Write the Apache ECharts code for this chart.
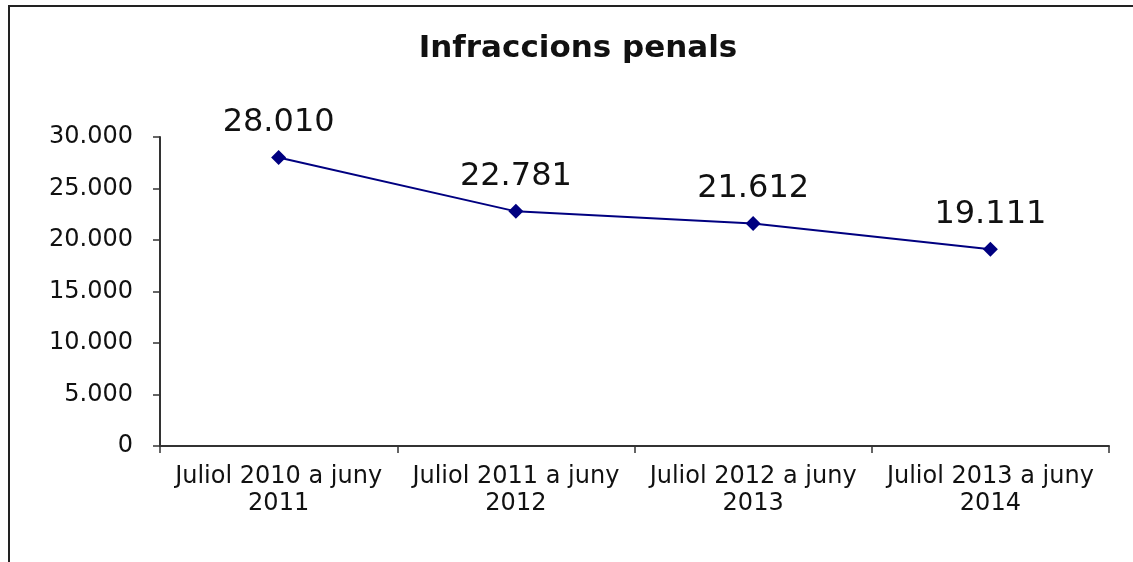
<!DOCTYPE html>
<html>
<head>
<meta charset="utf-8">
<script src="https://cdn.jsdelivr.net/npm/echarts@6/dist/echarts.min.js"></script>
<style>
  body { margin: 0; background: #fff; }
  #chart { width: 1133px; height: 562px; }
</style>
</head>
<body>
<div id="chart"></div>
<script>
// Data
const categories = [
  "Juliol 2010 a juny\n2011",
  "Juliol 2011 a juny\n2012",
  "Juliol 2012 a juny\n2013",
  "Juliol 2013 a juny\n2014",
];
const infraccions = [28010, 22781, 21612, 19111];
const yTicks = [0, 5000, 10000, 15000, 20000, 25000, 30000];

function fmt(v) {
  return String(v).replace(/\B(?=(\d{3})+(?!\d))/g, ".");
}

const chart = echarts.init(document.getElementById("chart"));
const option = {
  animation: false,
  backgroundColor: "#fff",
  title: {
    text: "Infraccions penals",
    left: 573,
    top: 28,
    textAlign: "center",
    textStyle: {
      fontFamily: "DejaVu Sans",
      fontWeight: "bold",
      fontSize: 31,
      color: "#111",
    },
  },
  graphic: [
    {
      type: "line",
      shape: { x1: 8, y1: 6, x2: 1133, y2: 6 },
      style: { stroke: "#222", lineWidth: 2 },
    },
    {
      type: "line",
      shape: { x1: 9, y1: 5, x2: 9, y2: 562 },
      style: { stroke: "#222", lineWidth: 2 },
    },
  ],
  grid: {
    left: 160,
    right: 24,
    top: 137,
    bottom: 116,
    containLabel: false,
  },
  xAxis: {
    type: "category",
    boundaryGap: true,
    data: categories,
    axisLine: { lineStyle: { color: "#333", width: 2 } },
    axisTick: { show: true, length: 7, lineStyle: { color: "#333", width: 1.5 } },
    axisLabel: {
      interval: 0,
      margin: 17,
      color: "#111",
      fontFamily: "DejaVu Sans",
      fontSize: 24,
      lineHeight: 27,
    },
  },
  yAxis: {
    type: "value",
    min: yTicks[0],
    max: yTicks[yTicks.length - 1],
    interval: yTicks[1] - yTicks[0],
    axisLine: { show: true, lineStyle: { color: "#333", width: 2 } },
    axisTick: { show: true, length: 7, lineStyle: { color: "#333", width: 1.5 } },
    splitLine: { show: false },
    axisLabel: {
      margin: 27,
      color: "#111",
      fontFamily: "DejaVu Sans",
      fontSize: 24,
      formatter: (v) => fmt(v),
    },
  },
  series: [
    {
      name: "Infraccions penals",
      type: "line",
      data: infraccions,
      symbol: "diamond",
      symbolSize: 15,
      itemStyle: { color: "#000080" },
      lineStyle: { color: "#000080", width: 2 },
      label: {
        show: true,
        position: "top",
        distance: 11,
        color: "#111",
        fontFamily: "DejaVu Sans",
        fontSize: 32,
        formatter: (p) => fmt(p.value),
      },
    },
  ],
};
chart.setOption(option);
</script>
</body>
</html>
